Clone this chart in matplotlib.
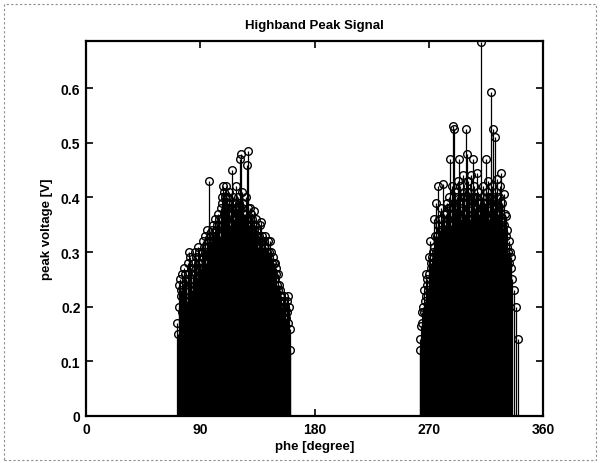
import matplotlib
matplotlib.use("Agg")
import matplotlib.pyplot as plt
from matplotlib.patches import Rectangle
import numpy as np

# phase grid of the two lobes [degree]
phase_left_a = np.arange(72, 162)
peak_left_a = [
    0.17, 0.24, 0.25, 0.23, 0.26, 0.27, 0.26, 0.25, 0.28, 0.30,
    0.29, 0.27, 0.26, 0.28, 0.30, 0.29, 0.31, 0.30, 0.28, 0.30,
    0.32, 0.31, 0.33, 0.34, 0.32, 0.43, 0.33, 0.34, 0.35, 0.33,
    0.36, 0.35, 0.37, 0.36, 0.38, 0.40, 0.42, 0.41, 0.42, 0.40,
    0.39, 0.41, 0.38, 0.45, 0.40, 0.39, 0.42, 0.38, 0.40, 0.47,
    0.48, 0.41, 0.39, 0.37, 0.40, 0.46, 0.485, 0.38, 0.37, 0.36,
    0.375, 0.35, 0.36, 0.34, 0.33, 0.35, 0.355, 0.33, 0.32, 0.33,
    0.31, 0.32, 0.30, 0.32, 0.30, 0.29, 0.28, 0.28, 0.27, 0.26,
    0.24, 0.23, 0.22, 0.21, 0.22, 0.20, 0.21, 0.22, 0.20, 0.12,
]
phase_left_b = np.arange(72.5, 161.0, 1.0)
peak_left_b = [
    0.15, 0.20, 0.22, 0.19, 0.24, 0.22, 0.25, 0.21, 0.26, 0.24,
    0.27, 0.23, 0.25, 0.22, 0.27, 0.25, 0.28, 0.24, 0.27, 0.29,
    0.26, 0.30, 0.28, 0.31, 0.29, 0.30, 0.32, 0.30, 0.33, 0.31,
    0.34, 0.32, 0.35, 0.33, 0.36, 0.39, 0.37, 0.40, 0.38, 0.36,
    0.38, 0.35, 0.37, 0.39, 0.36, 0.38, 0.35, 0.37, 0.39, 0.36,
    0.38, 0.35, 0.37, 0.34, 0.36, 0.38, 0.35, 0.36, 0.34, 0.33,
    0.34, 0.32, 0.33, 0.31, 0.32, 0.30, 0.32, 0.30, 0.31, 0.29,
    0.30, 0.28, 0.29, 0.27, 0.28, 0.26, 0.25, 0.26, 0.24, 0.23,
    0.22, 0.21, 0.20, 0.19, 0.20, 0.18, 0.19, 0.17, 0.16,
]

phase_right_a = np.concatenate([np.arange(263, 336), [337.5, 338.8, 340.0]])
peak_right_a = [
    0.12, 0.165, 0.19, 0.23, 0.21, 0.26, 0.25, 0.29, 0.32, 0.28,
    0.30, 0.36, 0.33, 0.39, 0.42, 0.36, 0.34, 0.38, 0.425, 0.37,
    0.35, 0.39, 0.38, 0.40, 0.47, 0.42, 0.53, 0.525, 0.41, 0.40,
    0.43, 0.47, 0.42, 0.40, 0.44, 0.41, 0.525, 0.48, 0.43, 0.41,
    0.44, 0.40, 0.47, 0.42, 0.40, 0.445, 0.41, 0.39, 0.685, 0.40,
    0.42, 0.39, 0.47, 0.41, 0.43, 0.40, 0.593, 0.42, 0.525, 0.51,
    0.41, 0.433, 0.40, 0.42, 0.444, 0.39, 0.406, 0.37, 0.366, 0.34,
    0.32, 0.30, 0.29, 0.23, 0.20, 0.14,
]
phase_right_b = np.arange(263.5, 336.0, 1.0)
peak_right_b = [
    0.14, 0.17, 0.20, 0.19, 0.22, 0.24, 0.23, 0.26, 0.27, 0.29,
    0.28, 0.31, 0.30, 0.33, 0.35, 0.32, 0.34, 0.36, 0.33, 0.35,
    0.37, 0.34, 0.36, 0.38, 0.35, 0.37, 0.39, 0.36, 0.38, 0.40,
    0.37, 0.39, 0.36, 0.38, 0.40, 0.37, 0.39, 0.41, 0.38, 0.36,
    0.39, 0.37, 0.40, 0.38, 0.36, 0.39, 0.37, 0.35, 0.38, 0.36,
    0.39, 0.37, 0.40, 0.38, 0.36, 0.39, 0.37, 0.40, 0.38, 0.36,
    0.39, 0.37, 0.35, 0.38, 0.36, 0.34, 0.35, 0.33, 0.31, 0.30,
    0.28, 0.27, 0.25,
]

xticks = [0, 90, 180, 270, 360]
yticks = [0, 0.1, 0.2, 0.3, 0.4, 0.5, 0.6]
yticklabels = ["0", "0.1", "0.2", "0.3", "0.4", "0.5", "0.6"]

plt.rcParams["font.family"] = ["Liberation Sans", "DejaVu Sans"]

fig = plt.figure(figsize=(6.01, 4.64), dpi=100)
ax = fig.add_axes([86 / 601, 47 / 464, 457 / 601, 375 / 464])

series = [
    (phase_left_a, peak_left_a),
    (phase_left_b, peak_left_b),
    (phase_right_a, peak_right_a),
    (phase_right_b, peak_right_b),
]
for ph, pk in series:
    markers, stems, base = ax.stem(ph, pk, linefmt="k-", markerfmt="ko", basefmt="k-")
    stems.set_linewidth(0.9)
    markers.set_markerfacecolor("none")
    markers.set_markeredgewidth(1.0)
    markers.set_markersize(5.5)
    base.set_linewidth(1.2)

ax.set_xlim(0, 360)
ax.set_ylim(0, 0.686)
ax.set_xticks(xticks)
ax.set_yticks(yticks)
ax.set_yticklabels(yticklabels)
ax.tick_params(direction="in", top=True, right=True, length=5, width=1.2,
               labelsize=10, pad=4)
for lab in ax.get_xticklabels() + ax.get_yticklabels():
    lab.set_fontweight("bold")
for s in ax.spines.values():
    s.set_linewidth(1.6)

ax.set_title("Highband Peak Signal", fontsize=9.5, fontweight="bold", pad=9)
ax.set_xlabel("phe [degree]", fontsize=9.5, fontweight="bold", labelpad=3)
ax.set_ylabel("peak voltage [V]", fontsize=9.5, fontweight="bold", labelpad=6)

# scanned page frame
fig.patches.append(Rectangle((4 / 601, 3 / 464), 592 / 601, 456 / 464,
                             transform=fig.transFigure, fill=False,
                             edgecolor="0.55", linewidth=0.8, linestyle=(0, (2, 2))))

fig.savefig("out.png", dpi=100)
